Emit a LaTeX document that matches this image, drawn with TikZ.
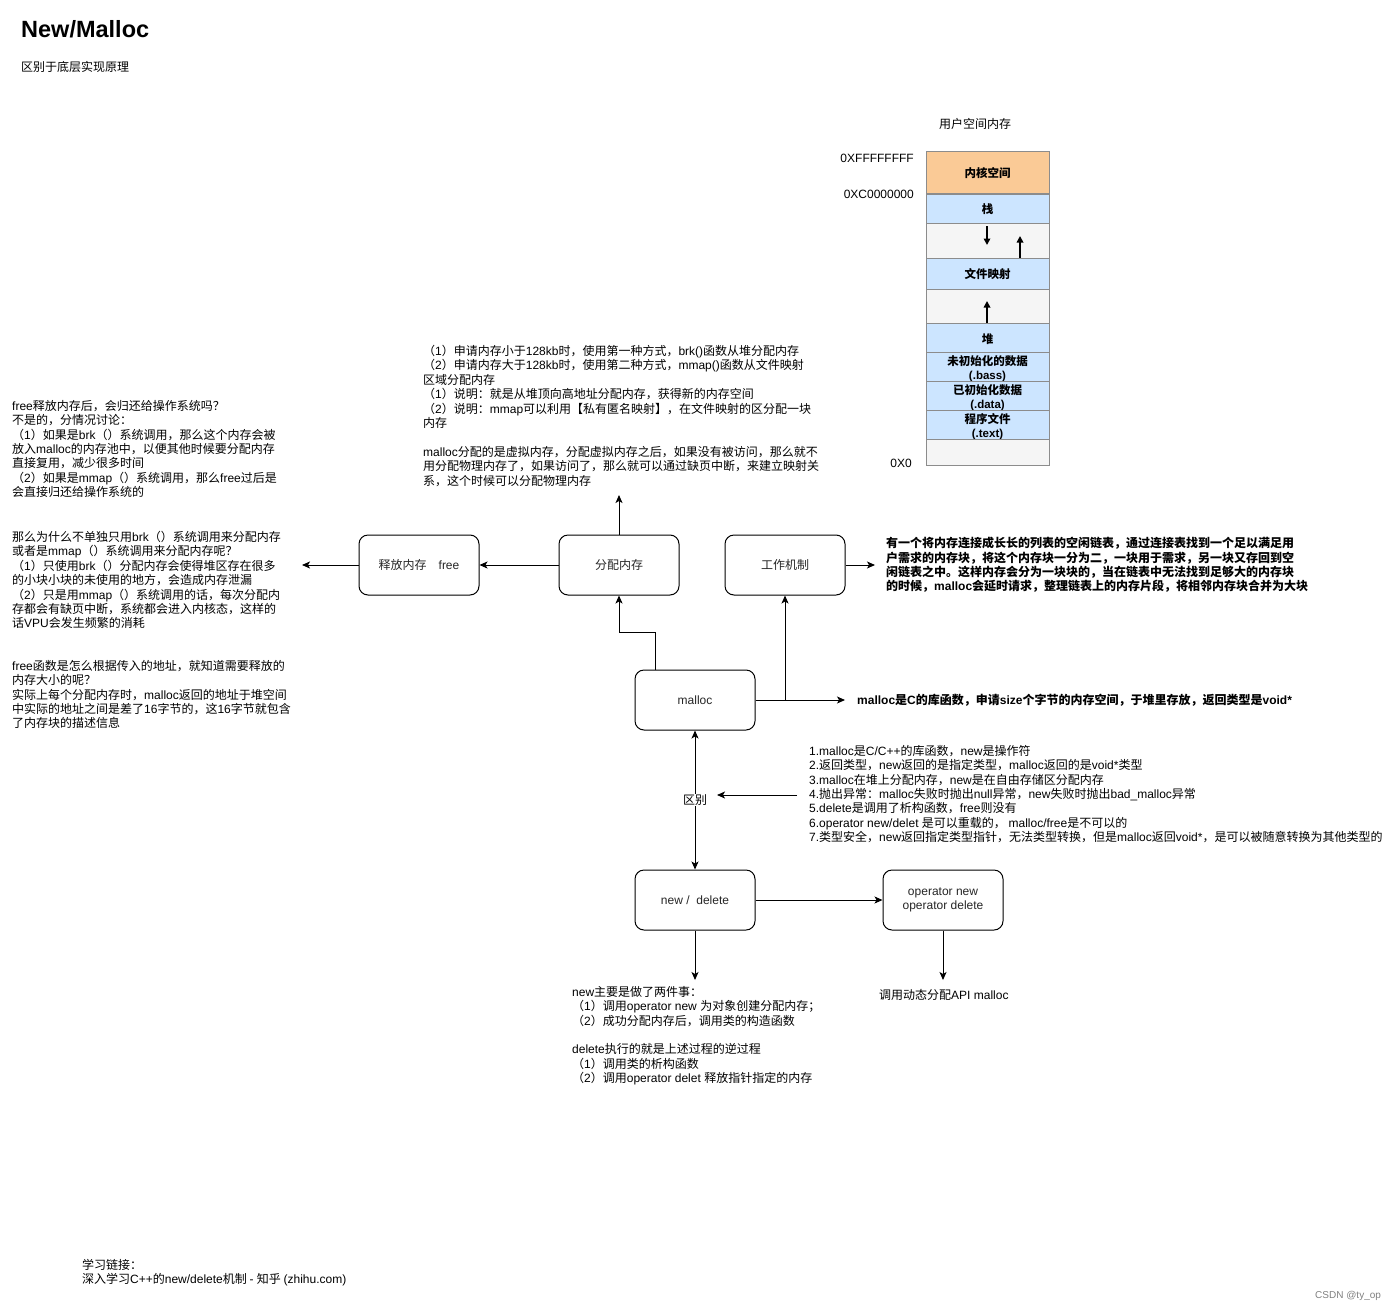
\documentclass[tikz,border=0pt]{standalone}
\usepackage{fontspec}
\setmainfont{Liberation Sans}
\newfontfamily\cjk{Noto Sans CJK SC}
\usetikzlibrary{arrows.meta}
\XeTeXinterchartokenstate=1
\newXeTeXintercharclass\CJKcls
\newcount\cjkcnt
\cjkcnt="3000
\loop
  \XeTeXcharclass\cjkcnt=\CJKcls
  \ifnum\cjkcnt<"9FFF \advance\cjkcnt by 1 \repeat
\cjkcnt="FF00
\loop
  \XeTeXcharclass\cjkcnt=\CJKcls
  \ifnum\cjkcnt<"FFEF \advance\cjkcnt by 1 \repeat
\XeTeXinterchartoks 0 \CJKcls={\cjk}
\XeTeXinterchartoks 4095 \CJKcls={\cjk}
\XeTeXinterchartoks \CJKcls 0={\rmfamily}
\XeTeXinterchartoks 4095 0={\rmfamily}
\definecolor{memorange}{RGB}{250,202,150}
\definecolor{memblue}{RGB}{204,229,255}
\definecolor{memgray}{RGB}{245,245,245}
\begin{document}
\begin{tikzpicture}[x=1pt,y=-1pt,
  box/.style={draw, line width=1pt, rounded corners=9pt, minimum width=120pt, minimum height=60pt, fill=white, inner sep=0pt, font=\fontsize{12}{14.4}\selectfont, text=black!85},
  txt/.style={anchor=north west, inner sep=0pt, align=left, font=\fontsize{12}{14.4}\selectfont},
  btxt/.style={txt, font=\bfseries\fontsize{12}{14.4}\selectfont},
  arr/.style={-{Stealth[length=8pt,width=7pt,inset=2pt]}, line width=1pt},
  darr/.style={{Stealth[length=8pt,width=7pt,inset=2pt]}-{Stealth[length=8pt,width=7pt,inset=2pt]}, line width=1pt},
  mem/.style={draw=black!45, line width=0.8pt, minimum width=123pt, inner sep=0pt, align=center, font=\bfseries\fontsize{11.5}{14}\selectfont},
  meml/.style={inner sep=0pt, align=center, font=\bfseries\fontsize{11.5}{14}\selectfont},
  marr/.style={-{Triangle[length=6.5pt,width=6.5pt]}, line width=1.6pt},
  hexlbl/.style={anchor=east, inner sep=0pt, font=\fontsize{12}{14}\selectfont}
]
\useasboundingbox (0,0) rectangle (1396,1311);

% title
\node[anchor=base west, inner sep=0pt, font=\bfseries\fontsize{23.5}{27}\selectfont] (title) at (21,38) {New/Malloc};
\node[anchor=west, inner sep=0pt, font=\fontsize{12}{14.4}\selectfont] (subtitle) at (21,67) {区别于底层实现原理};

% memory layout
\node[anchor=center, inner sep=0pt, font=\fontsize{12}{14.4}\selectfont] (memtitle) at (975,124) {用户空间内存};
\node[mem, fill=memorange, minimum height=42pt] (kern) at (987.5,172) {};
\node[meml] (kernl) at (987.5,173) {内核空间};
\node[mem, fill=memblue, minimum height=29pt] (stack) at (987.5,208.5) {};
\node[meml] (stackl) at (987.5,209.5) {栈};
\node[mem, fill=memgray, minimum height=35pt] (gap1) at (987.5,240.5) {};
\node[mem, fill=memblue, minimum height=31pt] (fmap) at (987.5,273.5) {};
\node[meml] (fmapl) at (987.5,274.5) {文件映射};
\node[mem, fill=memgray, minimum height=34pt] (gap2) at (987.5,306) {};
\node[mem, fill=memblue, minimum height=29pt] (heap) at (987.5,337.5) {};
\node[meml] (heapl) at (987.5,339) {堆};
\node[mem, fill=memblue, minimum height=29pt] (bss) at (987.5,366.5) {};
\node[meml] (bssl) at (987.5,369) {未初始化的数据\\(.bass)};
\node[mem, fill=memblue, minimum height=29pt] (data) at (987.5,395.5) {};
\node[meml] (datal) at (987.5,398) {已初始化数据\\(.data)};
\node[mem, fill=memblue, minimum height=29pt] (textseg) at (987.5,424.5) {};
\node[meml] (textsegl) at (987.5,427) {程序文件\\(.text)};
\node[mem, fill=memgray, minimum height=26pt] (gap3) at (987.5,452) {};
\draw[marr] (987,226) -- (987,245);
\draw[marr] (1020,258) -- (1020,236);
\draw[marr] (987,323) -- (987,301);
\node[hexlbl] (hexf) at (914,158) {0XFFFFFFFF};
\node[hexlbl] (hexc) at (914,194) {0XC0000000};
\node[hexlbl] (hex0) at (912,463) {0X0};

% boxes
\node[box] (free) at (419,565) {释放内存\quad free};
\node[box] (alloc) at (619,565) {分配内存};
\node[box] (work) at (785,565) {工作机制};
\node[box] (malloc) at (695,700) {malloc};
\node[box] (nd) at (695,900) {new /\ \ delete};
\node[box, align=center] (opnd) at (943,900) {operator new\\operator delete};

% free-end coordinates
\coordinate (freeend) at (302,565);
\coordinate (allocend) at (619,495);
\coordinate (workend) at (875,565);
\coordinate (mallocend) at (845,700);
\coordinate (ndend) at (695,980);
\coordinate (opend) at (943,980);
\coordinate (liststart) at (797,795);
\coordinate (listend) at (717,795);

% connectors
\draw[arr] (alloc) -- (free);
\draw[arr] (free) -- (freeend);
\draw[arr] (alloc) -- (allocend);
\draw[arr] (work) -- (workend);
\draw[arr] ([xshift=-40pt]malloc.north) -- ++(0,-37) -| (alloc.south);
\draw[arr] (malloc.east) -- (mallocend);
\draw[arr] (malloc.east) -| (work.south);
\draw[darr] (malloc) -- (nd) node[midway, fill=white, inner sep=1pt, font=\fontsize{12}{14.4}\selectfont] (diff) {区别};
\draw[arr] (liststart) -- (listend);
\draw[arr] (nd) -- (opnd);
\draw[arr] (nd) -- (ndend);
\draw[arr] (opnd) -- (opend);

% texts
\node[txt] (left1) at (12,400) {free释放内存后，会归还给操作系统吗？\\
不是的，分情况讨论：\\
（1）如果是brk（）系统调用，那么这个内存会被\\
放入malloc的内存池中，以便其他时候要分配内存\\
直接复用，减少很多时间\\
（2）如果是mmap（）系统调用，那么free过后是\\
会直接归还给操作系统的};

\node[txt] (left2) at (12,531) {那么为什么不单独只用brk（）系统调用来分配内存\\
或者是mmap（）系统调用来分配内存呢？\\
（1）只使用brk（）分配内存会使得堆区存在很多\\
的小块小块的未使用的地方，会造成内存泄漏\\
（2）只是用mmap（）系统调用的话，每次分配内\\
存都会有缺页中断，系统都会进入内核态，这样的\\
话VPU会发生频繁的消耗};

\node[txt] (left3) at (12,660) {free函数是怎么根据传入的地址，就知道需要释放的\\
内存大小的呢？\\
实际上每个分配内存时，malloc返回的地址于堆空间\\
中实际的地址之间是差了16字节的，这16字节就包含\\
了内存块的描述信息};

\node[txt] (mid) at (423,345) {（1）申请内存小于128kb时，使用第一种方式，brk()函数从堆分配内存\\
（2）申请内存大于128kb时，使用第二种方式，mmap()函数从文件映射\\
区域分配内存\\
（1）说明：就是从堆顶向高地址分配内存，获得新的内存空间\\
（2）说明：mmap可以利用【私有匿名映射】，在文件映射的区分配一块\\
内存\\[14.4pt]
malloc分配的是虚拟内存，分配虚拟内存之后，如果没有被访问，那么就不\\
用分配物理内存了，如果访问了，那么就可以通过缺页中断，来建立映射关\\
系，这个时候可以分配物理内存};

\node[btxt] (worktxt) at (886,537) {有一个将内存连接成长长的列表的空闲链表，通过连接表找到一个足以满足用\\
户需求的内存块，将这个内存块一分为二，一块用于需求，另一块又存回到空\\
闲链表之中。这样内存会分为一块块的，当在链表中无法找到足够大的内存块\\
的时候，malloc会延时请求，整理链表上的内存片段，将相邻内存块合并为大块};

\node[btxt, anchor=west] (malloctxt) at (857,700) {malloc是C的库函数，申请size个字节的内存空间，于堆里存放，返回类型是void*};

\node[txt] (difflist) at (809,745) {1.malloc是C/C++的库函数，new是操作符\\
2.返回类型，new返回的是指定类型，malloc返回的是void*类型\\
3.malloc在堆上分配内存，new是在自由存储区分配内存\\
4.抛出异常：malloc失败时抛出null异常，new失败时抛出bad\_malloc异常\\
5.delete是调用了析构函数，free则没有\\
6.operator new/delet 是可以重载的， malloc/free是不可以的\\
7.类型安全，new返回指定类型指针，无法类型转换，但是malloc返回void*，是可以被随意转换为其他类型的};

\node[txt] (ndtxt) at (572,986) {new主要是做了两件事：\\
（1）调用operator new 为对象创建分配内存；\\
（2）成功分配内存后，调用类的构造函数\\[14.4pt]
delete执行的就是上述过程的逆过程\\
（1）调用类的析构函数\\
（2）调用operator delet 释放指针指定的内存};

\node[txt, anchor=west] (optxt) at (879,995) {调用动态分配API malloc};

\node[txt] (links) at (82,1259) {学习链接：\\
深入学习C++的new/delete机制 - 知乎 (zhihu.com)};

\node[anchor=west, inner sep=0pt, font=\fontsize{10}{12}\selectfont, text=black!50] (csdn) at (1315,1296) {CSDN @ty\_op};
\end{tikzpicture}
\end{document}
